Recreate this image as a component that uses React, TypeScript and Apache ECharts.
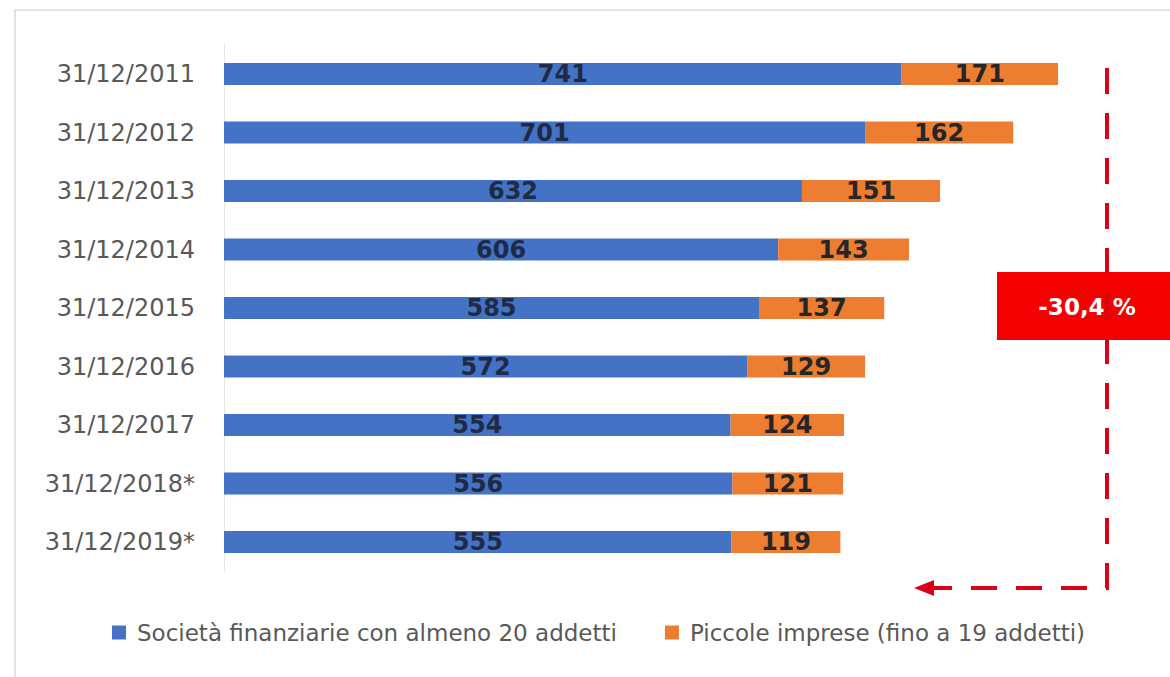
import React, { useEffect, useRef } from "react";
import * as echarts from "echarts";

const categories = [
  "31/12/2011",
  "31/12/2012",
  "31/12/2013",
  "31/12/2014",
  "31/12/2015",
  "31/12/2016",
  "31/12/2017",
  "31/12/2018*",
  "31/12/2019*",
];
const largeFirms = [741, 701, 632, 606, 585, 572, 554, 556, 555];
const smallFirms = [171, 162, 151, 143, 137, 129, 124, 121, 119];
const seriesNames = [
  "Società finanziarie con almeno 20 addetti",
  "Piccole imprese (fino a 19 addetti)",
];
const changeLabel = "-30,4 %";

const FONT = "DejaVu Sans";

export default function App() {
  const ref = useRef<HTMLDivElement>(null);
  useEffect(() => {
    if (!ref.current) return;
    const chart = echarts.init(ref.current, undefined, { renderer: "svg" });
    const boxRed = "#f50000";
    const lineRed = "#dc0016";
    chart.setOption({
      animation: false,
      backgroundColor: "#ffffff",
      textStyle: { fontFamily: FONT },
      grid: { left: 224, right: 31.5, top: 44.75, bottom: 105.75, containLabel: false },
      xAxis: {
        type: "value",
        min: 0,
        max: 1000,
        show: false,
      },
      yAxis: {
        type: "category",
        data: categories,
        inverse: true,
        axisLine: { show: true, lineStyle: { color: "#e6e6e6", width: 1 } },
        axisTick: { show: false },
        axisLabel: { color: "#595959", fontSize: 24, fontFamily: FONT, margin: 29 },
      },
      legend: {
        left: 107,
        top: 616,
        itemWidth: 14,
        itemHeight: 14,
        itemGap: 48,
        icon: "rect",
        textStyle: { color: "#595959", fontSize: 23, fontFamily: FONT, padding: [0, 0, 0, 6] },
        data: seriesNames,
      },
      series: [
        {
          name: seriesNames[0],
          type: "bar",
          stack: "total",
          data: largeFirms,
          barWidth: 22,
          itemStyle: { color: "#4472C4" },
          label: {
            show: true,
            position: "inside",
            color: "#1f2a44",
            fontWeight: "bold",
            fontSize: 24,
            fontFamily: FONT,
          },
        },
        {
          name: seriesNames[1],
          type: "bar",
          stack: "total",
          data: smallFirms,
          barWidth: 22,
          itemStyle: { color: "#ED7D31" },
          label: {
            show: true,
            position: "inside",
            color: "#262626",
            fontWeight: "bold",
            fontSize: 24,
            fontFamily: FONT,
          },
        },
      ],
      graphic: [
        {
          type: "polyline",
          z: 1,
          silent: true,
          shape: { points: [[15, 677], [15, 10], [1170, 10]] },
          style: { stroke: "#e2e2e2", lineWidth: 2, fill: null },
        },
        {
          type: "rect",
          z: 10,
          shape: { x: 997, y: 272, width: 175, height: 68 },
          style: { fill: boxRed },
        },
        {
          type: "text",
          z: 11,
          x: 1087,
          y: 307,
          style: {
            text: changeLabel,
            fill: "#ffffff",
            font: `bold 23px "${FONT}"`,
            textAlign: "center",
            textVerticalAlign: "middle",
          },
        },
        {
          type: "polyline",
          z: 12,
          shape: { points: [[1107, 68], [1107, 588], [932, 588]] },
          style: { stroke: lineRed, lineWidth: 4, lineDash: [26, 19], fill: null },
        },
        {
          type: "polygon",
          z: 12,
          shape: { points: [[914, 588], [934, 580], [934, 596]] },
          style: { fill: lineRed },
        },
      ],
    });
    return () => chart.dispose();
  }, []);
  return (
    <div
      ref={ref}
      style={{ position: "fixed", left: 0, top: 0, width: 1170, height: 677 }}
    />
  );
}
